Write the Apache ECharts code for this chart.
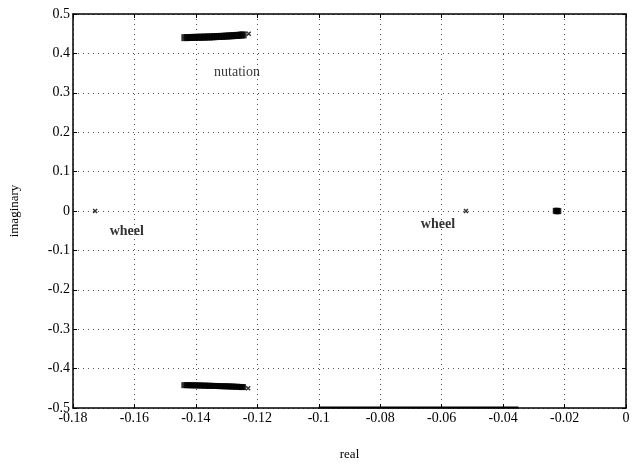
<!DOCTYPE html>
<html>
<head>
<meta charset="utf-8">
<script src="https://cdn.jsdelivr.net/npm/echarts@6/dist/echarts.min.js"></script>
<style>html,body{margin:0;padding:0;background:#fff;}#c{width:633px;height:466px;}</style>
</head>
<body>
<div id="c"></div>
<script>
// Upper nutation branch (real, imag)
const upperReal = [-0.1436,-0.1428,-0.1420,-0.1412,-0.1404,-0.1396,-0.1388,-0.1380,-0.1372,-0.1364,-0.1356,-0.1348,-0.1340,-0.1332,-0.1324,-0.1316,-0.1308,-0.1300,-0.1292,-0.1284,-0.1276,-0.1268,-0.1260,-0.1252,-0.1246];
const upperImag = [0.4400,0.4402,0.4404,0.4405,0.4407,0.4409,0.4410,0.4412,0.4414,0.4416,0.4418,0.4420,0.4424,0.4428,0.4430,0.4432,0.4436,0.4440,0.4444,0.4448,0.4452,0.4456,0.4460,0.4465,0.4470];
// Lower nutation branch
const lowerReal = [-0.1436,-0.1428,-0.1420,-0.1412,-0.1404,-0.1396,-0.1388,-0.1380,-0.1372,-0.1364,-0.1356,-0.1348,-0.1340,-0.1332,-0.1324,-0.1316,-0.1308,-0.1300,-0.1292,-0.1284,-0.1276,-0.1268,-0.1260,-0.1252,-0.1248];
const lowerImag = [-0.4420,-0.4421,-0.4422,-0.4424,-0.4425,-0.4426,-0.4428,-0.4430,-0.4432,-0.4434,-0.4436,-0.4438,-0.4440,-0.4442,-0.4444,-0.4446,-0.4448,-0.4450,-0.4452,-0.4455,-0.4458,-0.4461,-0.4464,-0.4467,-0.4470];
// End markers (x) of the nutation branches
const endReal = [-0.1228, -0.1230];
const endImag = [0.450, -0.450];
// Wheel roots on the real axis
const wheelReal = [-0.1728, -0.0521];
const wheelImag = [0, 0];
const clusterReal = [-0.0232,-0.0229,-0.0226,-0.0223,-0.0220,-0.0217];
const clusterImag = [0.0005,-0.0005,0.0008,-0.0008,0.0004,-0.0004];
// trace along the lower border
const traceReal = [-0.100, -0.035];
const traceImag = [-0.4985, -0.4985];
// Annotations
const annoText = ['nutation', 'wheel', 'wheel'];
const annoReal = [-0.1266, -0.1625, -0.0612];
const annoImag = [0.352, -0.052, -0.035];
const annoWeight = ['normal', 'bold', 'bold'];
// Axis ticks
const xTicks = [-0.18,-0.16,-0.14,-0.12,-0.1,-0.08,-0.06,-0.04,-0.02,0];
const yTicks = [-0.5,-0.4,-0.3,-0.2,-0.1,0,0.1,0.2,0.3,0.4,0.5];

const zip = (a, b) => a.map((v, i) => [v, b[i]]);
const font = '"Liberation Serif", "DejaVu Serif", serif';
const fmt = v => {
  const r = Math.round(v * 100) / 100;
  if (r === 0) return '0';
  return String(r);
};

const chart = echarts.init(document.getElementById('c'), null, {renderer: 'canvas'});
const baseX = {
  type: 'value', min: -0.18, max: 0, interval: 0.02,
  axisLine: {show: true, onZero: false, lineStyle: {color: '#000', width: 1.5}},
  axisTick: {show: true, inside: true, length: 4, lineStyle: {color: '#000'}},
};
const baseY = {
  type: 'value', min: -0.5, max: 0.5, interval: 0.1,
  axisLine: {show: true, onZero: false, lineStyle: {color: '#000', width: 1.5}},
  axisTick: {show: true, inside: true, length: 4, lineStyle: {color: '#000'}},
};
chart.setOption({
  animation: false,
  backgroundColor: '#fff',
  grid: {left: 73, right: 7, top: 14, bottom: 54, containLabel: false},
  xAxis: [
    Object.assign({}, baseX, {
      position: 'bottom',
      name: 'real', nameLocation: 'middle', nameGap: 40,
      nameTextStyle: {fontFamily: font, fontSize: 13, color: '#000'},
      axisLabel: {fontFamily: font, fontSize: 14, color: '#000', margin: 3, formatter: fmt},
      splitLine: {show: true, lineStyle: {type: [1, 4], color: '#555', width: 1}}
    }),
    Object.assign({}, baseX, {position: 'top', axisLabel: {show: false}, splitLine: {show: false}})
  ],
  yAxis: [
    Object.assign({}, baseY, {
      position: 'left',
      name: 'imaginary', nameLocation: 'middle', nameGap: 52, nameRotate: 90,
      nameTextStyle: {fontFamily: font, fontSize: 13, color: '#000'},
      axisLabel: {fontFamily: font, fontSize: 14, color: '#000', margin: 3, formatter: fmt},
      splitLine: {show: true, lineStyle: {type: [1, 4], color: '#555', width: 1}}
    }),
    Object.assign({}, baseY, {position: 'right', axisLabel: {show: false}, splitLine: {show: false}})
  ],
  series: [
    {type: 'scatter', data: zip(upperReal, upperImag), symbol: 'rect', symbolSize: [7, 7], itemStyle: {color: '#000'}},
    {type: 'scatter', data: zip(lowerReal, lowerImag), symbol: 'rect', symbolSize: [7, 6], itemStyle: {color: '#000'}},
    {type: 'scatter', data: zip(endReal, endImag), symbol: 'path://M0,0L10,10M10,0L0,10', symbolSize: 4,
      itemStyle: {color: 'none', borderColor: '#000', borderWidth: 1.5}},
    {type: 'scatter', data: zip(wheelReal, wheelImag), symbol: 'path://M0,0L10,10M10,0L0,10', symbolSize: 4,
      itemStyle: {color: 'none', borderColor: '#000', borderWidth: 1.5}},
    {type: 'scatter', data: zip(clusterReal, clusterImag), symbol: 'rect', symbolSize: [4, 6], itemStyle: {color: '#000'}},
    {type: 'line', data: zip(traceReal, traceImag), symbol: 'none', lineStyle: {color: '#000', width: 2}},
    {type: 'scatter', data: zip(annoReal, annoImag).map((p, i) => ({value: p, name: annoText[i],
        label: {fontWeight: annoWeight[i]}})),
      symbolSize: 0,
      label: {show: true, position: 'inside', formatter: p => p.name,
        fontFamily: font, fontSize: 14, color: '#000'}}
  ]
});
</script>
</body>
</html>
